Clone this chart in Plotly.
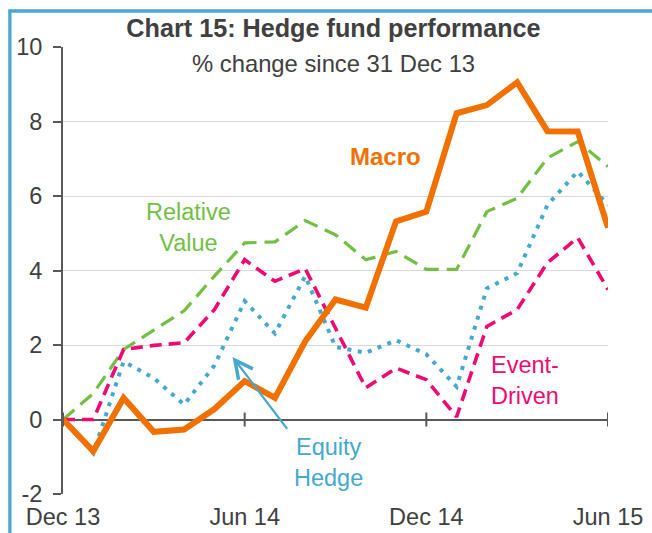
import plotly.graph_objects as go

# ---- data ----
months = ["Dec 13", "Jan 14", "Feb 14", "Mar 14", "Apr 14", "May 14", "Jun 14",
          "Jul 14", "Aug 14", "Sep 14", "Oct 14", "Nov 14", "Dec 14",
          "Jan 15", "Feb 15", "Mar 15", "Apr 15", "May 15", "Jun 15"]
macro = [0, -0.85, 0.58, -0.33, -0.27, 0.28, 1.03, 0.58, 2.1, 3.22, 3.0,
         5.32, 5.58, 8.22, 8.44, 9.05, 7.74, 7.73, 5.15]
relative_value = [0, 0.7, 1.88, 2.41, 2.92, 3.85, 4.74, 4.77, 5.34, 4.96, 4.29,
                  4.51, 4.03, 4.03, 5.58, 5.94, 7.02, 7.46, 6.79]
equity_hedge = [0, -0.9, 1.56, 1.11, 0.4, 1.45, 3.18, 2.31, 3.85, 1.95, 1.79,
                2.13, 1.75, 0.88, 3.52, 3.93, 5.76, 6.66, 5.76]
event_driven = [0, 0, 1.88, 1.99, 2.06, 2.95, 4.29, 3.71, 4.05, 2.45, 0.85,
                1.38, 1.07, 0.07, 2.5, 2.95, 4.21, 4.88, 3.49]
tick_labels = ["Dec 13", "Jun 14", "Dec 14", "Jun 15"]
y_ticks = [-2, 0, 2, 4, 6, 8, 10]
y_tick_text = ["-2", "0", "2", "4", "6", "8", "10"]

FONT = "Liberation Sans, Arial, sans-serif"
TXT = "#404040"
AX = "#595959"
ORANGE = "#F07100"
GREEN = "#72BF44"
BLUE = "#45A8CF"
PINK = "#EE0A72"
BORDER = "#47A9CF"

fig = go.Figure()
fig.add_trace(go.Scatter(x=months, y=relative_value, mode="lines", name="Relative Value",
                         line=dict(color=GREEN, width=3.2, dash="15px,8px")))
fig.add_trace(go.Scatter(x=months, y=event_driven, mode="lines", name="Event-Driven",
                         line=dict(color=PINK, width=3.6, dash="12px,7px")))
fig.add_trace(go.Scatter(x=months, y=equity_hedge, mode="lines", name="Equity Hedge",
                         line=dict(color=BLUE, width=4, dash="4px,6.5px")))
fig.add_trace(go.Scatter(x=months, y=macro, mode="lines", name="Macro",
                         line=dict(color=ORANGE, width=6)))

# crossing tick marks on the zero line
for t in tick_labels:
    fig.add_shape(type="line", xref="x", yref="y", x0=t, x1=t,
                  ysizemode="pixel", yanchor=0, y0=-7, y1=7,
                  line=dict(color=AX, width=2))

# frame (blue border top + left)
fig.add_shape(type="line", xref="paper", yref="paper", x0=-0.1, x1=1.1,
              y0=1.0805, y1=1.0805, line=dict(color=BORDER, width=3.3))
fig.add_shape(type="line", xref="paper", yref="paper", x0=-0.0975, x1=-0.0975,
              y0=1.084, y1=-0.12, line=dict(color=BORDER, width=3.3))

# series labels
fig.add_annotation(x=10.64, y=7.07, xref="x", yref="y", text="<b>Macro</b>",
                   showarrow=False, font=dict(color=ORANGE, size=24, family=FONT))
fig.add_annotation(x=4.13, y=5.15, xref="x", yref="y", text="Relative<br>Value",
                   showarrow=False, font=dict(color=GREEN, size=23.5, family=FONT))
fig.add_annotation(x=15.27, y=1.05, xref="x", yref="y", text="Event-<br>Driven",
                   showarrow=False, font=dict(color=PINK, size=23.5, family=FONT))
fig.add_annotation(x=8.78, y=-1.15, xref="x", yref="y", text="Equity<br>Hedge",
                   showarrow=False, font=dict(color=BLUE, size=23.5, family=FONT))
# arrow to Equity Hedge line
fig.add_annotation(x=5.6, y=1.68, xref="x", yref="y", ax=7.44, ay=-0.29,
                   axref="x", ayref="y", text="", showarrow=True,
                   arrowhead=5, arrowsize=1.6, arrowwidth=2.2, arrowcolor=BLUE,
                   standoff=0, startstandoff=0)

# subtitle
fig.add_annotation(x=0.496, y=0.964, xref="paper", yref="paper",
                   text="% change since 31 Dec 13", showarrow=False,
                   font=dict(color=TXT, size=23.8, family=FONT), yanchor="middle")

fig.update_layout(
    width=652, height=533,
    margin=dict(l=63, r=44, t=47, b=39, autoexpand=False),
    paper_bgcolor="white", plot_bgcolor="white",
    showlegend=False,
    font=dict(family=FONT, color=TXT, size=23.5),
    title=dict(text="<b>Chart 15: Hedge fund performance</b>",
               x=333.5 / 652, xanchor="center", y=1 - 28 / 533, yanchor="middle",
               yref="container", font=dict(size=25.2, color=TXT, family=FONT)),
    xaxis=dict(type="category", categoryorder="array", categoryarray=months,
               range=[0, len(months) - 1], tickmode="array",
               tickvals=tick_labels, ticktext=tick_labels,
               showgrid=False, showline=False, zeroline=False, automargin=False,
               ticks="outside", ticklen=2, tickcolor="rgba(0,0,0,0)",
               tickfont=dict(size=23.5, color=TXT)),
    yaxis=dict(range=[-2, 10], tickmode="array", tickvals=y_ticks,
               ticktext=y_tick_text, showgrid=True, automargin=False,
               gridcolor="#D9D9D9", gridwidth=1.3,
               zeroline=True, zerolinecolor=AX, zerolinewidth=2,
               showline=True, linecolor=AX, linewidth=2,
               ticks="outside", ticklen=8, tickwidth=2, tickcolor=AX,
               ticklabelstandoff=6,
               tickfont=dict(size=23.5, color=TXT)),
)

fig.write_html(
    "out.html",
    config={"displayModeBar": False},
    post_script="document.body.style.margin='0';document.body.style.overflow='hidden';",
)
